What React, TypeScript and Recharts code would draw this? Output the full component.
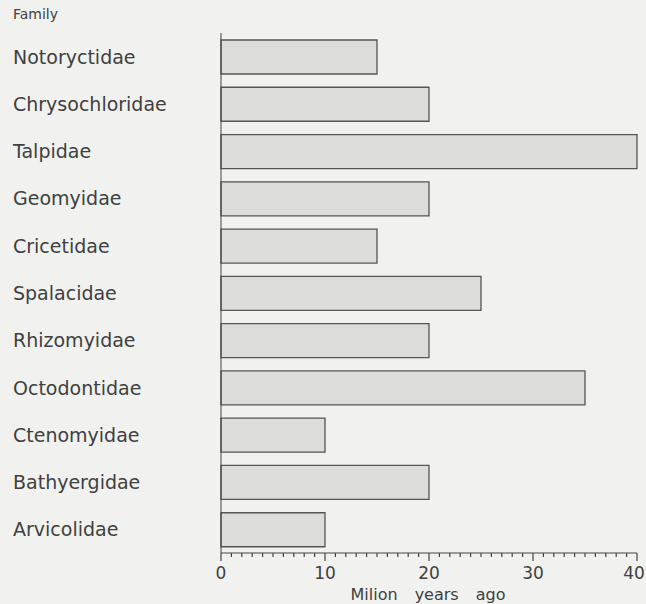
import React from 'react';
import { BarChart, Bar, XAxis, YAxis, Label } from 'recharts';

const families = [
  'Notoryctidae',
  'Chrysochloridae',
  'Talpidae',
  'Geomyidae',
  'Cricetidae',
  'Spalacidae',
  'Rhizomyidae',
  'Octodontidae',
  'Ctenomyidae',
  'Bathyergidae',
  'Arvicolidae',
];
const millionYears = [15, 20, 40, 20, 15, 25, 20, 35, 10, 20, 10];
const majorTicks = [0, 10, 20, 30, 40];

const data = families.map((name, i) => ({ name, value: millionYears[i] }));

const minorTicks: number[] = [];
for (let t = 0; t <= 40; t++) minorTicks.push(t);

const FONT = '"DejaVu Sans", "Open Sans", sans-serif';
const INK = '#404040';

function FamilyTick({ y, payload }: any) {
  return (
    <text x={13} y={y} dy={7} fontSize={19} fill={INK} fontFamily={FONT} textAnchor="start">
      {payload.value}
    </text>
  );
}

function YearTick({ x, y, payload }: any) {
  const major = majorTicks.includes(payload.value);
  return (
    <g>
      <line x1={x} x2={x} y1={y} y2={y + (major ? 8 : 4)} stroke="#444" strokeWidth={1.2} />
      {major && (
        <text x={Math.min(x, 634)} y={y + 26} fontSize={17} fill={INK} fontFamily={FONT} textAnchor="middle">
          {payload.value}
        </text>
      )}
    </g>
  );
}

export default function App() {
  return (
    <div style={{ position: 'relative', width: 646, height: 604, background: '#f1f1ef' }}>
      <style>{`body{margin:0;background:#f1f1ef}`}</style>
      <div style={{ position: 'absolute', left: 13, top: 6, fontFamily: FONT, fontSize: 14, color: INK }}>Family</div>
      <BarChart
        width={646}
        height={604}
        data={data}
        layout="vertical"
        margin={{ top: 33, right: 9, bottom: 0, left: 0 }}
        barCategoryGap="28%"
      >
        <XAxis
          type="number"
          dataKey="value"
          domain={[0, 40]}
          ticks={minorTicks}
          interval={0}
          tickLine={false}
          tickSize={0}
          tickMargin={0}
          height={51}
          stroke="#444"
          tick={<YearTick />}
        >
          <Label
            content={() => (
              <text x={428} y={600} fontSize={16} fill={INK} fontFamily={FONT} textAnchor="middle" wordSpacing={12}>
                Milion years ago
              </text>
            )}
          />
        </XAxis>
        <YAxis
          type="category"
          dataKey="name"
          width={221}
          tickLine={false}
          stroke="#444"
          interval={0}
          tick={<FamilyTick />}
        />
        <Bar dataKey="value" fill="#dcdcda" stroke="#555" strokeWidth={1.3} barSize={34} isAnimationActive={false} />
      </BarChart>
    </div>
  );
}
